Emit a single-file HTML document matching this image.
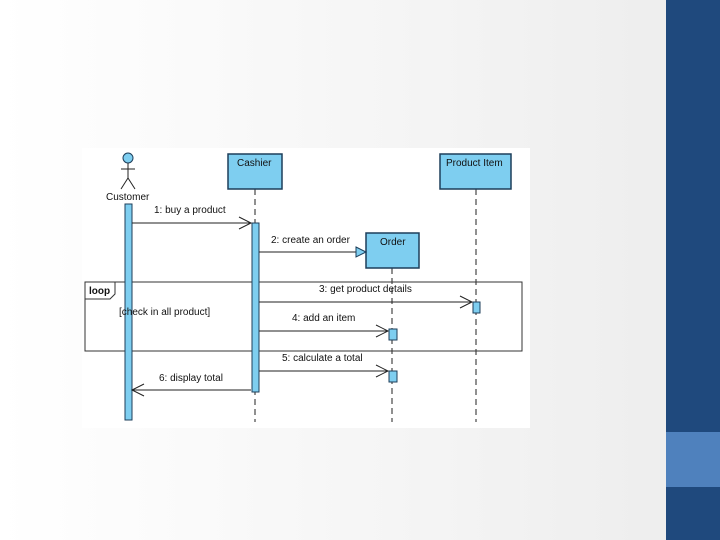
<!DOCTYPE html>
<html><head><style>
html,body{margin:0;padding:0;}
body{width:720px;height:540px;position:relative;overflow:hidden;background:linear-gradient(90deg,#ffffff 0%,#f4f4f4 60%,#ececec 100%);font-family:"Liberation Sans",sans-serif;}
.bar{position:absolute;left:666px;top:0;width:54px;height:540px;background:#1f497d;}
.lb{position:absolute;left:666px;top:432px;width:54px;height:55px;background:#4f81bd;}
</style></head><body>
<div class="bar"></div><div class="lb"></div>
<svg width="720" height="540" style="position:absolute;left:0;top:0" font-family="Liberation Sans, sans-serif" font-size="10">
<rect x="82" y="148" width="448" height="280" fill="#fff"/>
<!-- lifelines -->
<g stroke="#222" stroke-dasharray="6,4" stroke-width="1">
<line x1="255" y1="189" x2="255" y2="422"/>
<line x1="392" y1="268" x2="392" y2="422"/>
<line x1="476" y1="189" x2="476" y2="422"/>
</g>
<!-- actor -->
<g stroke="#222" fill="none">
<circle cx="128" cy="158" r="5" fill="#7ecef0" stroke="#1d3e5a"/>
<line x1="128" y1="163" x2="128" y2="178"/>
<line x1="121" y1="169" x2="135" y2="169"/>
<line x1="128" y1="178" x2="121" y2="189"/>
<line x1="128" y1="178" x2="135" y2="189"/>
</g>
<text x="106" y="200" fill="#111">Customer</text>
<!-- boxes -->
<g fill="#7ecef0" stroke="#1d3e5a" stroke-width="1.5">
<rect x="228" y="154" width="54" height="35"/>
<rect x="440" y="154" width="71" height="35"/>
<rect x="366" y="233" width="53" height="35"/>
</g>
<text x="237" y="166" fill="#111">Cashier</text>
<text x="446" y="166" fill="#111">Product Item</text>
<text x="380" y="245" fill="#111">Order</text>
<!-- loop frame -->
<rect x="85" y="282" width="437" height="69" fill="none" stroke="#333"/>
<path d="M85 299 H110 L115 294 V282" fill="none" stroke="#333"/>
<text x="89" y="294" font-weight="bold" fill="#111">loop</text>
<!-- activations -->
<g fill="#7ecef0" stroke="#1d3e5a" stroke-width="1">
<rect x="125" y="204" width="7" height="216"/>
<rect x="252" y="223" width="7" height="169"/>
<rect x="473" y="302" width="7" height="11"/>
<rect x="389" y="329" width="8" height="11"/>
<rect x="389" y="371" width="8" height="11"/>
</g>
<text x="119" y="315" fill="#111">[check in all product]</text>
<!-- messages -->
<g stroke="#222" fill="none" stroke-width="1">
<line x1="132" y1="223" x2="251" y2="223"/><path d="M239 217 L251 223 L239 229"/>
<line x1="259" y1="252" x2="356" y2="252"/><path d="M356 247 L366 252 L356 257 Z" fill="#7ecef0" stroke="#1d3e5a"/>
<line x1="259" y1="302" x2="472" y2="302"/><path d="M460 296 L472 302 L460 308"/>
<line x1="259" y1="331" x2="388" y2="331"/><path d="M376 325 L388 331 L376 337"/>
<line x1="259" y1="371" x2="388" y2="371"/><path d="M376 365 L388 371 L376 377"/>
<line x1="132" y1="390" x2="251" y2="390"/><path d="M144 384 L132 390 L144 396"/>
</g>
<g fill="#111">
<text x="154" y="213">1: buy a product</text>
<text x="271" y="243">2: create an order</text>
<text x="319" y="292">3: get product details</text>
<text x="292" y="321">4: add an item</text>
<text x="282" y="361">5: calculate a total</text>
<text x="159" y="381">6: display total</text>
</g>
</svg>
</body></html>
